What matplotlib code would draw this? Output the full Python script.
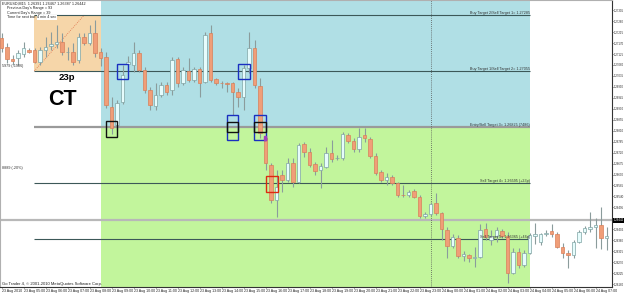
import numpy as np
import matplotlib
matplotlib.use("Agg")
import matplotlib.pyplot as plt
from matplotlib.patches import Rectangle

plt.rcParams["font.family"] = ["Liberation Sans", "DejaVu Sans"]

# EURUSD M15 candles, 23 Aug 2010 04:00 -> 24 Aug 2010 07:30 (one entry per bar)
opens = np.array([
    1.27191, 1.27154, 1.27105, 1.27109, 1.27125, 1.27142, 1.27142, 1.27092, 1.27142, 1.27158,
    1.27166, 1.27174, 1.27133, 1.27133, 1.27100, 1.27195, 1.27170, 1.27211, 1.27133, 1.27113,
    1.26907, 1.26833, 1.26928, 1.27084, 1.27080, 1.27129, 1.27059, 1.26977, 1.26911, 1.26957,
    1.26998, 1.26977, 1.27105, 1.27006, 1.27055, 1.27018, 1.27063, 1.27010, 1.27211, 1.27022,
    1.27006, 1.27005, 1.27006, 1.26969, 1.26948, 1.27068, 1.27150, 1.26994, 1.26780, 1.26669,
    1.26525, 1.26628, 1.26607, 1.26677, 1.26599, 1.26755, 1.26722, 1.26673, 1.26648, 1.26661,
    1.26718, 1.26696, 1.26698, 1.26792, 1.26768, 1.26735, 1.26792, 1.26776, 1.26706, 1.26640,
    1.26607, 1.26620, 1.26595, 1.26546, 1.26546, 1.26562, 1.26537, 1.26459, 1.26467, 1.26513,
    1.26472, 1.26402, 1.26336, 1.26369, 1.26295, 1.26299, 1.26289, 1.26291, 1.26406, 1.26361,
    1.26377, 1.26398, 1.26377, 1.26225, 1.26311, 1.26258, 1.26307, 1.26377, 1.26352, 1.26385,
    1.26398, 1.26385, 1.26332, 1.26307, 1.26299, 1.26352, 1.26393, 1.26406, 1.26414, 1.26422,
    1.26369])
highs = np.array([
    1.27211, 1.27170, 1.27121, 1.27142, 1.27174, 1.27150, 1.27150, 1.27154, 1.27195, 1.27215,
    1.27244, 1.27211, 1.27154, 1.27170, 1.27211, 1.27211, 1.27244, 1.27265, 1.27150, 1.27133,
    1.26948, 1.26936, 1.27080, 1.27117, 1.27174, 1.27142, 1.27072, 1.26989, 1.27006, 1.27010,
    1.27010, 1.27113, 1.27113, 1.27072, 1.27109, 1.27072, 1.27072, 1.27215, 1.27244, 1.27026,
    1.27014, 1.27010, 1.27010, 1.26985, 1.27080, 1.27215, 1.27183, 1.27026, 1.26792, 1.26677,
    1.26648, 1.26648, 1.26698, 1.26698, 1.26759, 1.26763, 1.26739, 1.26680, 1.26677, 1.26743,
    1.26772, 1.26710, 1.26805, 1.26800, 1.26780, 1.26821, 1.26821, 1.26784, 1.26718, 1.26648,
    1.26636, 1.26628, 1.26599, 1.26587, 1.26566, 1.26570, 1.26546, 1.26476, 1.26517, 1.26554,
    1.26476, 1.26414, 1.26385, 1.26381, 1.26315, 1.26303, 1.26332, 1.26426, 1.26430, 1.26402,
    1.26414, 1.26406, 1.26393, 1.26328, 1.26328, 1.26320, 1.26389, 1.26430, 1.26389, 1.26402,
    1.26426, 1.26393, 1.26348, 1.26320, 1.26361, 1.26402, 1.26418, 1.26476, 1.26451, 1.26496,
    1.26414])
lows = np.array([
    1.27133, 1.27088, 1.27080, 1.27080, 1.27113, 1.27129, 1.27088, 1.27080, 1.27113, 1.27142,
    1.27150, 1.27121, 1.27100, 1.27080, 1.27088, 1.27162, 1.27162, 1.27113, 1.27076, 1.26903,
    1.26796, 1.26813, 1.26920, 1.27059, 1.27051, 1.27051, 1.26965, 1.26895, 1.26895, 1.26948,
    1.26957, 1.26957, 1.26989, 1.26998, 1.27010, 1.27010, 1.26948, 1.27006, 1.27010, 1.26998,
    1.26985, 1.26969, 1.26874, 1.26907, 1.26895, 1.27047, 1.26985, 1.26780, 1.26648, 1.26513,
    1.26455, 1.26558, 1.26599, 1.26578, 1.26595, 1.26702, 1.26661, 1.26628, 1.26574, 1.26657,
    1.26680, 1.26689, 1.26689, 1.26759, 1.26722, 1.26722, 1.26763, 1.26698, 1.26628, 1.26599,
    1.26587, 1.26587, 1.26537, 1.26537, 1.26537, 1.26533, 1.26451, 1.26451, 1.26459, 1.26463,
    1.26361, 1.26287, 1.26328, 1.26287, 1.26274, 1.26270, 1.26250, 1.26287, 1.26361, 1.26340,
    1.26352, 1.26369, 1.26184, 1.26221, 1.26246, 1.26250, 1.26303, 1.26344, 1.26340, 1.26377,
    1.26373, 1.26328, 1.26287, 1.26246, 1.26287, 1.26348, 1.26385, 1.26393, 1.26328, 1.26324,
    1.26320])
closes = np.array([
    1.27150, 1.27105, 1.27096, 1.27129, 1.27150, 1.27133, 1.27092, 1.27142, 1.27154, 1.27166,
    1.27174, 1.27133, 1.27135, 1.27092, 1.27195, 1.27170, 1.27211, 1.27129, 1.27109, 1.26916,
    1.26821, 1.26924, 1.27039, 1.27092, 1.27129, 1.27059, 1.26977, 1.26916, 1.26957, 1.26998,
    1.26969, 1.27100, 1.27006, 1.27059, 1.27018, 1.27063, 1.27006, 1.27203, 1.27018, 1.27006,
    1.27004, 1.27003, 1.26969, 1.26948, 1.27068, 1.27150, 1.26998, 1.26800, 1.26677, 1.26525,
    1.26578, 1.26607, 1.26677, 1.26599, 1.26751, 1.26722, 1.26669, 1.26644, 1.26665, 1.26718,
    1.26692, 1.26698, 1.26796, 1.26768, 1.26735, 1.26784, 1.26780, 1.26706, 1.26636, 1.26607,
    1.26620, 1.26595, 1.26546, 1.26544, 1.26558, 1.26537, 1.26459, 1.26467, 1.26509, 1.26472,
    1.26406, 1.26336, 1.26373, 1.26295, 1.26303, 1.26287, 1.26291, 1.26402, 1.26373, 1.26377,
    1.26402, 1.26377, 1.26225, 1.26311, 1.26258, 1.26307, 1.26381, 1.26385, 1.26385, 1.26389,
    1.26385, 1.26332, 1.26307, 1.26299, 1.26352, 1.26393, 1.26410, 1.26414, 1.26422, 1.26369,
    1.26377])

# hourly time labels (every 4th bar)
time_labels = ["23 Aug 2010"] + ["23 Aug %02d:00" % h for h in range(5, 24)] + \
              ["24 Aug %02d:00" % h for h in range(0, 8)]

# target / entry levels drawn by the indicator
level_prices = [1.27285, 1.27055, 1.26825, 1.26595, 1.26365]
level_labels = ["Buy Target 2/Sell Target 1= 1.27285",
                "Buy Target 1/Sell Target 2= 1.27055",
                "Entry/Sell Target 3= 1.26825 (7486)",
                "Sell Target 4= 1.26595 (+23p)",
                "Sell Target 5= 1.26365 (+46p)"]
bid_price = 1.26442

# zones (bar index start/end)
range_box = (5.9, 18)        # previous range box
zone_bars = (18, 96)         # buy (blue) / sell (green) zone
session_line = 78            # dotted vertical

# marker squares: (bar start, bar end, price low, price high, colour)
squares = [
    (18.9, 21.0, 1.26786, 1.26850, "#111111"),
    (20.9, 23.0, 1.27021, 1.27083, "#1a2fc0"),
    (43.0, 45.1, 1.27021, 1.27083, "#1a2fc0"),
    (41.0, 43.0, 1.26772, 1.26874, "#1a2fc0"),
    (41.0, 43.0, 1.26805, 1.26844, "#111111"),
    (45.9, 48.1, 1.26772, 1.26874, "#1a2fc0"),
    (45.9, 48.1, 1.26805, 1.26844, "#111111"),
    (48.0, 50.2, 1.26560, 1.26624, "#dd2a10"),
]

y_top, y_bot = 1.27347, 1.26168

fig = plt.figure(figsize=(6.25, 2.96), dpi=100)
ax = fig.add_axes([0, 9 / 296, 612 / 625, 287 / 296])
ax.set_xlim(-0.31, 110.96)
ax.set_ylim(y_bot, y_top)

# background zones
ax.fill_between(zone_bars, level_prices[2], y_top, color="#b0dfe5", lw=0, zorder=0)
ax.fill_between(zone_bars, y_bot, level_prices[2], color="#c2f59c", lw=0, zorder=0)
ax.fill_between(range_box, level_prices[1], level_prices[0], color="#f6d6a9", lw=0, zorder=0)
ax.plot([range_box[0], 15.0], [level_prices[1], level_prices[0]], color="#e0704a",
        lw=0.6, ls=(0, (1, 1.5)), zorder=1)

# levels
for i, (p, lab) in enumerate(zip(level_prices, level_labels)):
    if i == 2:
        ax.hlines(p, range_box[0], zone_bars[1], color="#9a9a9a", lw=1.6, zorder=1)
    else:
        ax.hlines(p, range_box[0], zone_bars[1], color="#3c5858", lw=0.8, zorder=1)
    ax.text(zone_bars[1], p, lab, ha="right", va="bottom", fontsize=2.7,
            color="#333333", zorder=6)

ax.axhline(bid_price, color="#b8b8b8", lw=1.6, zorder=1)
ax.axvline(session_line, color="#555555", lw=0.6, ls=(0, (1, 1.5)), zorder=1)

# candles
idx = np.arange(len(opens))
up = closes >= opens
ax.vlines(idx, lows, highs, color="#8b9c9c", lw=0.8, zorder=3)
body_lo = np.minimum(opens, closes)
body_h = np.maximum(np.abs(closes - opens), 0.00002)
ax.bar(idx[up], body_h[up], bottom=body_lo[up], width=0.64, color="#e6fcfc",
       edgecolor="#80a4a4", lw=0.5, zorder=4)
ax.bar(idx[~up], body_h[~up], bottom=body_lo[~up], width=0.64, color="#f09e78",
       edgecolor="#d9805a", lw=0.5, zorder=4)

for x0, x1, p0, p1, col in squares:
    ax.add_patch(Rectangle((x0, p0), x1 - x0, p1 - p0, fill=False, edgecolor=col,
                           lw=1.0, zorder=5))
ax.add_patch(Rectangle((47.7, 1.26772), 0.4, 0.00018, color="#a040c0", zorder=5))

# text annotations
ax.text(11.9, 1.27046, "23p", ha="center", va="top", fontsize=6.8, fontweight="bold", zorder=6)
ax.text(11.0, 1.26940, "CT", ha="center", va="center", fontsize=15.5, fontweight="bold", zorder=6)
ax.text(0.1, 1.27076, "5979 (-1986)", fontsize=2.7, va="center", color="#333333", zorder=6)
ax.text(0.1, 1.26657, "8889 (-20%)", fontsize=2.7, va="center", color="#333333", zorder=6)
ax.text(0.1, y_bot + 0.00004, "Go Trader 4, \u00a9 2001-2010 MetaQuotes Software Corp.",
        fontsize=3.0, va="bottom", color="#222222", zorder=6)

# header block
fig.text(2 / 625, 1 - 4 / 296, "EURUSD,M15  1.26391 1.26467 1.26387 1.26442",
         fontsize=2.7, va="center", color="#222222")
fig.text(7 / 625, 1 - 8.5 / 296, "Previous Day's Range = 93", fontsize=2.7,
         va="center", color="#222222")
fig.text(7 / 625, 1 - 13 / 296, "Current Day's Range = 39", fontsize=2.7,
         va="center", color="#222222")
fig.text(7 / 625, 1 - 17.5 / 296, "Time for next bar:", fontsize=2.7,
         va="center", color="#222222")
fig.text(37 / 625, 1 - 17.5 / 296, "4 min 4 sec", fontsize=2.7, va="center",
         color="#222222", bbox=dict(facecolor="white", edgecolor="none", pad=0.3))

# axes
ax.set_xticks(idx[::4][:len(time_labels)])
ax.set_xticklabels(time_labels, ha="left", fontsize=2.6)
price_ticks = np.arange(1.27305, y_bot, -0.00045)
price_ticks = price_ticks[np.abs(price_ticks - bid_price) > 0.0002]
ax.yaxis.tick_right()
ax.set_yticks(price_ticks)
ax.set_yticklabels(["%.5f" % p for p in price_ticks], fontsize=2.0)
ax.tick_params(axis="both", length=1.0, width=0.5, pad=0.6, colors="#222222")
ax.annotate("%.5f" % bid_price, xy=(1.0, bid_price), xycoords=("axes fraction", "data"),
            xytext=(1.0, 0), textcoords="offset points", fontsize=2.0, color="white",
            va="center", ha="left",
            bbox=dict(facecolor="black", edgecolor="none", pad=0.3), annotation_clip=False)
for side in ["left", "top"]:
    ax.spines[side].set_color("#b0b0b0")
    ax.spines[side].set_linewidth(0.8)
for side in ["right", "bottom"]:
    ax.spines[side].set_color("#333333")
    ax.spines[side].set_linewidth(0.8)

fig.savefig("out.png", dpi=100)
